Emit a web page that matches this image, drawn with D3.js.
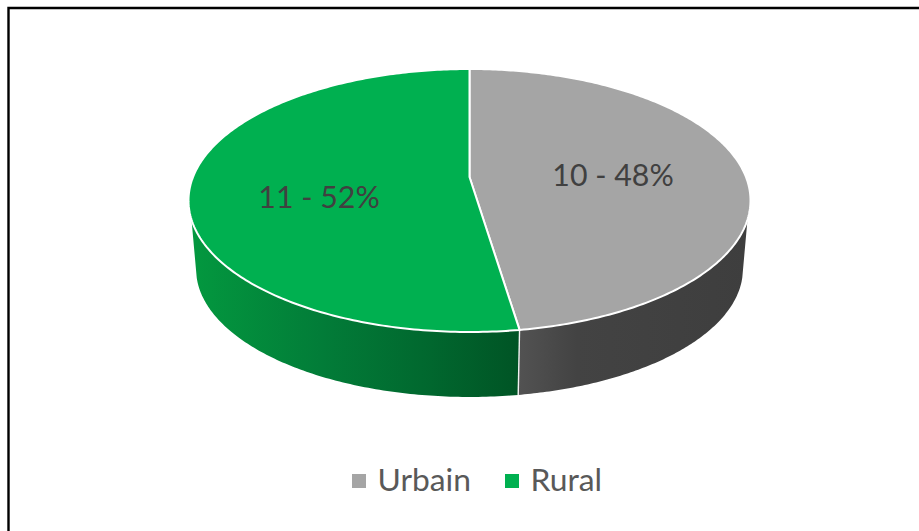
<!DOCTYPE html>
<html lang="en">
<head>
    <meta charset="UTF-8">
    <title>Urbain / Rural</title>
    <script src="https://cdnjs.cloudflare.com/ajax/libs/d3/7.8.5/d3.min.js"></script>
    <style>
        html, body {
            margin: 0;
            background: white;
        }

        svg {
            display: block;
        }

        text {
            font-family: Lato, sans-serif;
        }
    </style>
</head>
<body>
<div id="chart"></div>
<script>
    const categories = ['Urbain', 'Rural'];
    const counts = [10, 11];
    const percents = [48, 52];

    const width = 919;
    const height = 531;

    const topColors = ['#a5a5a5', '#00b050'];
    const sideStops = [
        [[0, '#525252'], [0.25, '#434343'], [1, '#3e3e3e']],
        [[0, '#03983f'], [0.4, '#027c38'], [0.7, '#01692f'], [1, '#005425']]
    ];

    const svg = d3.select('#chart').append('svg')
        .attr('width', width)
        .attr('height', height);

    // picture frame, open at the right and bottom edge
    svg.append('path')
        .attr('d', `M8.5,${height}V8H${width}`)
        .attr('fill', 'none')
        .attr('stroke', 'black')
        .attr('stroke-width', 2.4);

    // the pie is a tilted disc seen in perspective, so its centre sits above the middle of the ellipse
    const cx = 469.5, cy = 200.5, rx = 281, ry = 131.5;
    const centerShift = -23.5;
    const persp = -2 * centerShift / (2 * ry);
    const rxFlat = rx * Math.sqrt(1 - persp * persp);
    const shrink = 0.973;
    const depth = 68.5;

    // angle clockwise from 12 o'clock -> offset from the ellipse middle
    const project = a => {
        const u = Math.sin(a), v = -Math.cos(a);
        const w = 1 - persp * v;
        return [rxFlat * u / w, (ry * v + centerShift) / w];
    };
    const topPoint = a => {
        const [x, y] = project(a);
        return [cx + x, cy + y];
    };
    const bottomPoint = a => {
        const [x, y] = project(a);
        return [cx + x * shrink, cy + depth + y * shrink];
    };

    const pie = d3.pie().sort(null)(counts);
    const line = d3.line();
    const sample = (a0, a1, n) => d3.range(n + 1).map(i => a0 + (a1 - a0) * i / n);

    // angle on the rim where its offset below the ellipse middle equals dy
    const angleAtDrop = (dy, right) => {
        const scan = sample(right ? 0 : Math.PI * 2, Math.PI, 2000);
        return scan.find(a => project(a)[1] >= dy);
    };

    const defs = svg.append('defs');
    const xRim = a => topPoint(a)[0];

    pie.forEach((d, i) => {
        const right = d.startAngle < Math.PI && i === 0;
        const topEdge = angleAtDrop(19, right);
        const bottomEdge = angleAtDrop(8.5 / shrink, right);
        const seam = right ? d.endAngle : d.startAngle;

        const grad = defs.append('linearGradient')
            .attr('id', `side${i}`)
            .attr('gradientUnits', 'userSpaceOnUse')
            .attr('x1', xRim(right ? seam : topEdge))
            .attr('x2', xRim(right ? topEdge : seam))
            .attr('y1', 0)
            .attr('y2', 0);
        grad.selectAll('stop').data(sideStops[i]).enter().append('stop')
            .attr('offset', s => s[0])
            .attr('stop-color', s => s[1]);

        const rimTop = sample(topEdge, seam, 120).map(topPoint);
        const rimBottom = sample(seam, bottomEdge, 120).map(bottomPoint);

        svg.append('path')
            .attr('class', 'side')
            .attr('d', line(rimTop.concat(rimBottom)) + 'Z')
            .attr('fill', `url(#side${i})`);
    });

    // white seam down the side wall
    svg.append('path')
        .attr('d', line([topPoint(pie[0].endAngle), bottomPoint(pie[0].endAngle)]))
        .attr('stroke', '#f2f2f2')
        .attr('stroke-width', 1.4)
        .attr('fill', 'none');

    pie.forEach((d, i) => {
        const rim = sample(d.startAngle, d.endAngle, 240).map(topPoint);
        const [mx, my] = [cx, cy + centerShift];
        svg.append('path')
            .attr('class', 'slice')
            .attr('d', line([[mx, my]].concat(rim)) + 'Z')
            .attr('fill', topColors[i])
            .attr('stroke', 'white')
            .attr('stroke-width', 2)
            .attr('stroke-linejoin', 'round');
    });

    // data labels
    const labelOffset = [[613, 186], [319, 208]];
    svg.selectAll('.label').data(categories).enter().append('text')
        .attr('class', 'label')
        .attr('x', (_, i) => labelOffset[i][0])
        .attr('y', (_, i) => labelOffset[i][1])
        .attr('text-anchor', 'middle')
        .attr('font-size', 30.3)
        .attr('fill', '#404040')
        .text((_, i) => `${counts[i]} - ${percents[i]}%`);

    // legend
    const legendX = d3.scaleOrdinal().domain(categories).range([352, 505]);
    const legend = svg.selectAll('.legend').data(categories).enter().append('g')
        .attr('class', 'legend')
        .attr('transform', d => `translate(${legendX(d)}, 474)`);
    legend.append('rect')
        .attr('width', 14)
        .attr('height', 14)
        .attr('fill', (_, i) => topColors[i]);
    legend.append('text')
        .attr('x', 25.5)
        .attr('y', 17)
        .attr('font-size', 31.8)
        .attr('fill', '#595959')
        .text(d => d);
</script>
</body>
</html>
